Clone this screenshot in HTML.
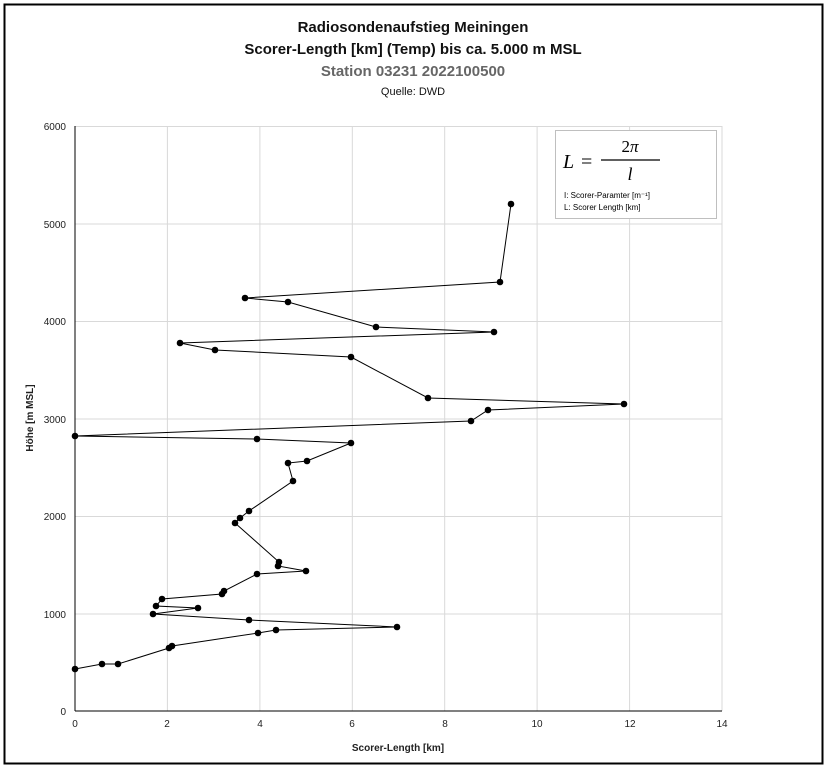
<!DOCTYPE html>
<html><head><meta charset="utf-8"><style>
body{margin:0;background:#fff;}
svg{display:block;font-family:"Liberation Sans",sans-serif;}
</style></head><body>
<svg width="827" height="768" viewBox="0 0 827 768">
<rect x="0" y="0" width="827" height="768" fill="#fff"/>
<rect x="4.5" y="4.5" width="818" height="759" fill="#fff" stroke="#000" stroke-width="2"/>
<g text-anchor="middle" font-weight="bold">
<text x="413" y="32" font-size="15" fill="#111">Radiosondenaufstieg Meiningen</text>
<text x="413" y="54" font-size="15" fill="#111">Scorer-Length [km] (Temp) bis ca. 5.000 m MSL</text>
<text x="413" y="76" font-size="15" fill="#666">Station 03231 2022100500</text>
<text x="413" y="95" font-size="11" font-weight="normal" fill="#111">Quelle: DWD</text>
</g>
<g stroke="#d9d9d9" stroke-width="1">
<line x1="75" y1="126.5" x2="722" y2="126.5"/><line x1="75" y1="224" x2="722" y2="224"/>
<line x1="75" y1="321.5" x2="722" y2="321.5"/><line x1="75" y1="419" x2="722" y2="419"/>
<line x1="75" y1="516.5" x2="722" y2="516.5"/><line x1="75" y1="614" x2="722" y2="614"/>
<line x1="167.4" y1="126" x2="167.4" y2="711"/><line x1="259.9" y1="126" x2="259.9" y2="711"/>
<line x1="352.3" y1="126" x2="352.3" y2="711"/><line x1="444.7" y1="126" x2="444.7" y2="711"/>
<line x1="537.1" y1="126" x2="537.1" y2="711"/><line x1="629.6" y1="126" x2="629.6" y2="711"/>
<line x1="722" y1="126" x2="722" y2="711"/>
</g>
<g stroke="#000" stroke-width="1">
<line x1="75" y1="126" x2="75" y2="711"/><line x1="75" y1="711" x2="722" y2="711"/>
</g>
<g font-size="10" fill="#222" text-anchor="end">
<text x="66" y="130">6000</text><text x="66" y="228">5000</text><text x="66" y="325">4000</text>
<text x="66" y="423">3000</text><text x="66" y="520">2000</text><text x="66" y="618">1000</text><text x="66" y="715">0</text>
</g>
<g font-size="10" fill="#222" text-anchor="middle">
<text x="75" y="727">0</text><text x="167" y="727">2</text><text x="260" y="727">4</text><text x="352" y="727">6</text>
<text x="445" y="727">8</text><text x="537" y="727">10</text><text x="630" y="727">12</text><text x="722" y="727">14</text>
</g>
<text x="398" y="751" font-size="10" font-weight="bold" text-anchor="middle" fill="#222">Scorer-Length [km]</text>
<text transform="translate(33,418) rotate(-90)" font-size="10" font-weight="bold" text-anchor="middle" fill="#222">Höhe [m MSL]</text>
<rect x="555.5" y="130.5" width="161" height="88" fill="#fff" stroke="#bfbfbf"/>
<text x="563" y="168" font-family="Liberation Serif,serif" font-style="italic" font-size="20">L</text>
<text x="581" y="168" font-family="Liberation Serif,serif" font-size="20">=</text>
<line x1="601" y1="160" x2="660" y2="160" stroke="#000" stroke-width="1.2"/>
<text x="630" y="152" font-family="Liberation Serif,serif" font-size="17" text-anchor="middle">2<tspan font-style="italic">π</tspan></text>
<text x="630" y="180" font-family="Liberation Serif,serif" font-style="italic" font-size="18" text-anchor="middle">l</text>
<text x="564" y="198" font-size="8">I: Scorer-Paramter [m⁻¹]</text>
<text x="564" y="210" font-size="8">L: Scorer Length [km]</text>
<polyline fill="none" stroke="#000" stroke-width="1" points="511,204 500,282 245,298 288,302 376,327 494,332 180,343 215,350 351,357 428,398 624,404 488,410 471,421 75,436 257,439 351,443 307,461 288,463 293,481 249,511 240,518 235,523 279,562 278,566 306,571 257,574 224,591 222,594 162,599 156,606 198,608 153,614 249,620 397,627 276,630 258,633 172,646 169,648 118,664 102,664 75,669"/>
<g fill="#000">
<circle cx="511" cy="204" r="3.3"/><circle cx="500" cy="282" r="3.3"/><circle cx="245" cy="298" r="3.3"/><circle cx="288" cy="302" r="3.3"/><circle cx="376" cy="327" r="3.3"/><circle cx="494" cy="332" r="3.3"/><circle cx="180" cy="343" r="3.3"/><circle cx="215" cy="350" r="3.3"/><circle cx="351" cy="357" r="3.3"/><circle cx="428" cy="398" r="3.3"/><circle cx="624" cy="404" r="3.3"/><circle cx="488" cy="410" r="3.3"/><circle cx="471" cy="421" r="3.3"/><circle cx="75" cy="436" r="3.3"/><circle cx="257" cy="439" r="3.3"/><circle cx="351" cy="443" r="3.3"/><circle cx="307" cy="461" r="3.3"/><circle cx="288" cy="463" r="3.3"/><circle cx="293" cy="481" r="3.3"/><circle cx="249" cy="511" r="3.3"/><circle cx="240" cy="518" r="3.3"/><circle cx="235" cy="523" r="3.3"/><circle cx="279" cy="562" r="3.3"/><circle cx="278" cy="566" r="3.3"/><circle cx="306" cy="571" r="3.3"/><circle cx="257" cy="574" r="3.3"/><circle cx="224" cy="591" r="3.3"/><circle cx="222" cy="594" r="3.3"/><circle cx="162" cy="599" r="3.3"/><circle cx="156" cy="606" r="3.3"/><circle cx="198" cy="608" r="3.3"/><circle cx="153" cy="614" r="3.3"/><circle cx="249" cy="620" r="3.3"/><circle cx="397" cy="627" r="3.3"/><circle cx="276" cy="630" r="3.3"/><circle cx="258" cy="633" r="3.3"/><circle cx="172" cy="646" r="3.3"/><circle cx="169" cy="648" r="3.3"/><circle cx="118" cy="664" r="3.3"/><circle cx="102" cy="664" r="3.3"/><circle cx="75" cy="669" r="3.3"/>
</g>
</svg>
</body></html>
